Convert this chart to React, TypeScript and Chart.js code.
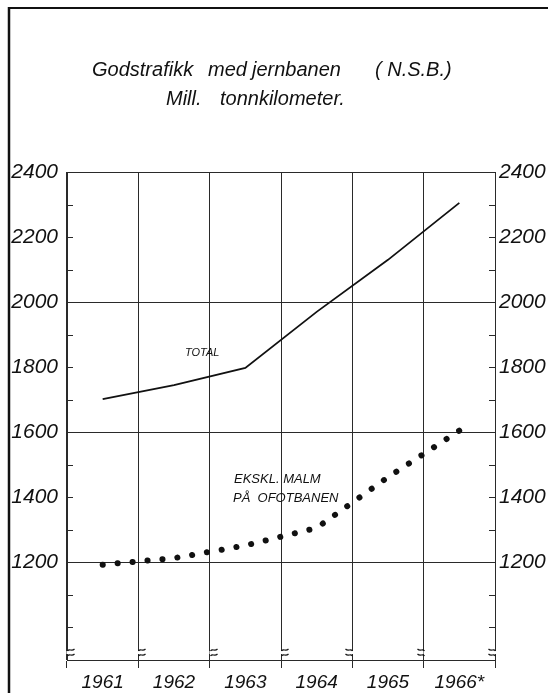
import React, { useEffect, useRef } from 'react';
import { Chart, registerables } from 'chart.js';

Chart.register(...registerables);

// ---- data ----
const years = ['1961', '1962', '1963', '1964', '1965', '1966*'];
const totalValues = [1702, 1745, 1798, 1970, 2130, 2305];
const exclOreValues = [1193, 1213, 1252, 1306, 1462, 1605];
const yMin = 900;
const yMax = 2400;
const yStep = 100;
const labelledTicks = [1200, 1400, 1600, 1800, 2000, 2200, 2400];
const gridValues = [1200, 1600, 2000, 2400];
const titleLine1 = ['Godstrafikk', 'med', 'jernbanen', '( N.S.B.)'];
const titleLine2 = ['Mill.', 'tonnkilometer.'];
const totalLabel = 'TOTAL';
const exclLabel = ['EKSKL. MALM', 'PÅ  OFOTBANEN'];

const FAMILY = "'Liberation Sans', Arial, sans-serif";
const INK = '#111';
const GRID = '#2a2a2a';

const decor = {
  id: 'decor',
  beforeDraw(chart: any) {
    const ctx = chart.ctx;
    ctx.save();
    ctx.fillStyle = '#fff';
    ctx.fillRect(0, 0, chart.width, chart.height);
    ctx.restore();
  },
  afterDraw(chart: any) {
    const ctx = chart.ctx;
    const { left, right } = chart.chartArea;
    const ys = chart.scales.y;
    const xs = chart.scales.x;
    ctx.save();
    // page frame
    ctx.strokeStyle = INK;
    ctx.lineWidth = 2;
    ctx.beginPath();
    ctx.moveTo(8, 8);
    ctx.lineTo(chart.width, 8);
    ctx.stroke();
    ctx.lineWidth = 2.5;
    ctx.beginPath();
    ctx.moveTo(9, 7);
    ctx.lineTo(9, chart.height);
    ctx.stroke();

    // inward minor ticks
    ctx.strokeStyle = GRID;
    ctx.lineWidth = 1;
    ctx.beginPath();
    for (let v = yMin + yStep; v < yMax; v += yStep) {
      const py = Math.round(ys.getPixelForValue(v)) + 0.5;
      ctx.moveTo(left, py);
      ctx.lineTo(left + 6, py);
      ctx.moveTo(right, py);
      ctx.lineTo(right - 6, py);
    }
    ctx.stroke();

    // axis-break marks on vertical lines
    const breakY = ys.getPixelForValue(yMin) - 8;
    ctx.lineWidth = 1.2;
    ctx.strokeStyle = INK;
    for (let i = 0; i <= years.length; i++) {
      const bx = Math.round(xs.getPixelForValue(i - 0.5)) + 0.5;
      const d = i < 4 ? 1 : -1;
      ctx.fillStyle = '#fff';
      ctx.fillRect(bx - 1, breakY - 1, 2, 3);
      ctx.beginPath();
      for (const yy of [breakY - 2, breakY + 3]) {
        ctx.moveTo(bx, yy + 1);
        ctx.bezierCurveTo(bx + d * 2, yy - 2, bx + d * 4, yy + 2, bx + d * 7, yy - 1);
      }
      ctx.stroke();
    }

    // title
    ctx.fillStyle = INK;
    ctx.textBaseline = 'alphabetic';
    ctx.textAlign = 'left';
    ctx.font = `italic 20px ${FAMILY}`;
    const l1x = [92, 208, 252, 375];
    titleLine1.forEach((w, i) => ctx.fillText(w, l1x[i], 76));
    const l2x = [166, 220];
    titleLine2.forEach((w, i) => ctx.fillText(w, l2x[i], 105));

    // series annotations
    ctx.font = `italic 11px ${FAMILY}`;
    ctx.textBaseline = 'middle';
    ctx.fillText(totalLabel, 185, 353);
    ctx.font = `italic 13px ${FAMILY}`;
    ctx.fillText(exclLabel[0], 234, 479);
    ctx.fillText(exclLabel[1], 233, 498);
    ctx.restore();
  },
};

export default function App() {
  const ref = useRef<HTMLCanvasElement>(null);
  useEffect(() => {
    const tickFont = { family: FAMILY, size: 21, style: 'italic' as const };
    const chart = new Chart(ref.current as HTMLCanvasElement, {
      type: 'line',
      data: {
        labels: years,
        datasets: [
          {
            label: 'Total',
            data: totalValues,
            borderColor: INK,
            borderWidth: 1.8,
            pointRadius: 0,
            tension: 0,
            fill: false,
          },
          {
            label: 'Ekskl. malm på Ofotbanen',
            data: exclOreValues,
            borderColor: INK,
            borderWidth: 6,
            borderDash: [0.1, 14.9],
            borderCapStyle: 'round',
            pointRadius: 0,
            tension: 0,
            fill: false,
          },
        ],
      },
      options: {
        responsive: false,
        animation: false,
        devicePixelRatio: 1,
        layout: { padding: { top: 172, left: 0, right: 0, bottom: 0 } },
        plugins: {
          legend: { display: false },
          tooltip: { enabled: false },
          title: { display: false },
        },
        scales: {
          x: {
            type: 'category',
            offset: true,
            grid: {
              offset: true,
              color: GRID,
              lineWidth: 1,
              drawTicks: true,
              tickLength: 8,
              tickColor: GRID,
            },
            border: { display: true, color: GRID, width: 1 },
            ticks: {
              font: { family: FAMILY, size: 19, style: 'italic' },
              color: INK,
              padding: 3,
              maxRotation: 0,
              autoSkip: false,
            },
            afterFit: (s: any) => {
              s.height = 33;
            },
          },
          y: {
            position: 'left',
            min: yMin,
            max: yMax,
            ticks: {
              stepSize: yStep,
              autoSkip: false,
              callback: (v: any) => (labelledTicks.includes(Number(v)) ? String(v) : ''),
              font: tickFont,
              color: INK,
              padding: 9,
            },
            grid: {
              drawTicks: false,
              lineWidth: 1,
              color: (c: any) =>
                c.tick && gridValues.includes(c.tick.value) ? GRID : 'rgba(0,0,0,0)',
            },
            border: { display: true, color: GRID, width: 1 },
            afterFit: (s: any) => {
              s.width = 67;
            },
          },
          y2: {
            position: 'right',
            min: yMin,
            max: yMax,
            ticks: {
              stepSize: yStep,
              autoSkip: false,
              callback: (v: any) => (labelledTicks.includes(Number(v)) ? String(v) : ''),
              font: tickFont,
              color: INK,
              padding: 4,
            },
            grid: { drawOnChartArea: false, drawTicks: false },
            border: { display: true, color: GRID, width: 1 },
            afterFit: (s: any) => {
              s.width = 53;
            },
          },
        },
      } as any,
      plugins: [decor],
    });
    return () => chart.destroy();
  }, []);

  return (
    <div style={{ position: 'absolute', left: 0, top: 0, width: 548, height: 693, background: '#fff' }}>
      <canvas ref={ref} width={548} height={693} style={{ display: 'block', width: 548, height: 693 }} />
    </div>
  );
}
